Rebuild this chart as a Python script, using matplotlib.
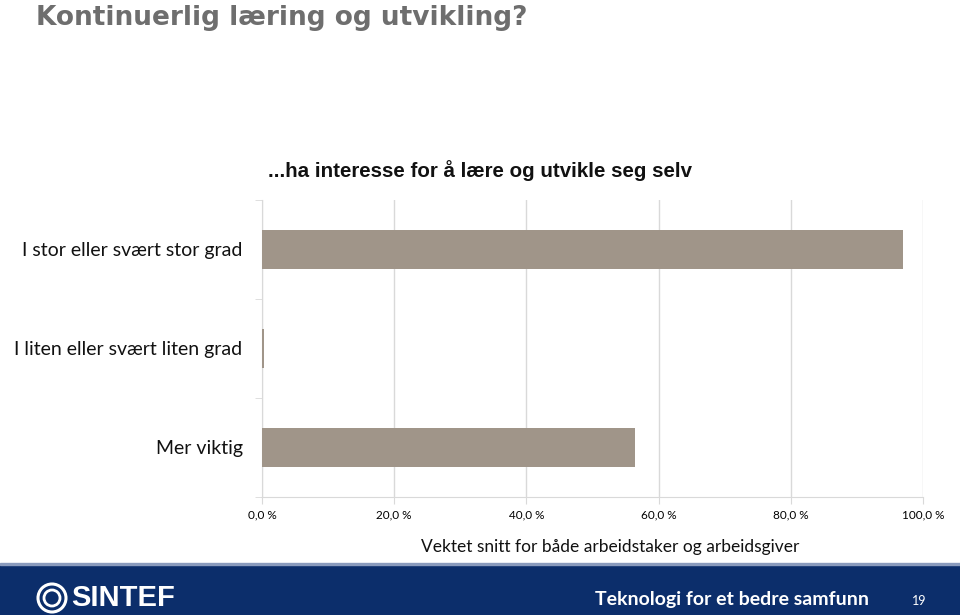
import matplotlib.pyplot as plt
from matplotlib.patches import Rectangle, Circle
from matplotlib.ticker import FixedLocator, FuncFormatter

categories = ["I stor eller svært stor grad", "I liten eller svært liten grad", "Mer viktig"]
values = [97.0, 0.3, 56.4]
x_ticks = [0, 20, 40, 60, 80, 100]

bar_color = "#a09589"
grid_color = "#d9d9d9"
navy = "#0c2e6b"

fig = plt.figure(figsize=(9.6, 6.15), dpi=100)
ax = fig.add_axes([0.2729, 0.1919, 0.6885, 0.4829])

pos = list(range(len(categories)))
ax.barh(pos, values, height=0.4, color=bar_color, zorder=3)
ax.set_ylim(2.5, -0.5)
ax.set_xlim(0, 100)

ax.set_yticks(pos)
ax.set_yticklabels(categories, fontsize=14, color="#111111", family="Lato")
ax.yaxis.set_minor_locator(FixedLocator([-0.5, 0.5, 1.5, 2.5]))
ax.tick_params(axis="y", which="major", length=0, pad=14)
ax.tick_params(axis="y", which="minor", length=5, color=grid_color)

ax.set_xticks(x_ticks)
ax.xaxis.set_major_formatter(FuncFormatter(lambda v, p: f"{v:.1f} %".replace(".", ",")))
ax.tick_params(axis="x", length=5, color=grid_color, labelsize=8.5, pad=4)
for lab in ax.get_xticklabels():
    lab.set_family("Lato")

ax.grid(axis="x", color=grid_color, linewidth=1, zorder=0)
for s in ["top", "right"]:
    ax.spines[s].set_visible(False)
ax.spines["left"].set_color(grid_color)
ax.spines["bottom"].set_color(grid_color)

fig.text(0.5, 0.722, "...ha interesse for å lære og utvikle seg selv", ha="center", va="center",
         fontsize=14.8, fontweight="bold", family="Liberation Sans", color="#111111")
fig.text(0.636, 0.111, "Vektet snitt for både arbeidstaker og arbeidsgiver", ha="center", va="center",
         fontsize=12.5, family="Lato", color="#111111")

fig.text(0.038, 0.970, "Kontinuerlig læring og utvikling?", ha="left", va="center",
         fontsize=19, fontweight="bold", color="#6e6e6e", family="DejaVu Sans Condensed")

# footer band
fig.patches.append(Rectangle((0, 0), 1, 50 / 615, transform=fig.transFigure, color=navy, zorder=0))
fig.patches.append(Rectangle((0, 50 / 615), 1, 2 / 615, transform=fig.transFigure, color="#8a9bbd", zorder=0))
fig.patches.append(Circle((52, 17), 14, transform=None, fill=False, edgecolor="white", linewidth=2.2))
fig.patches.append(Circle((52, 17), 8, transform=None, fill=False, edgecolor="white", linewidth=2))
fig.text(0.074, 0.028, "SINTEF", ha="left", va="center", fontsize=21, fontweight="bold",
         color="white", family="Liberation Sans")
fig.text(0.62, 0.026, "Teknologi for et bedre samfunn", ha="left", va="center", fontsize=14,
         fontweight="bold", color="white", family="Lato")
fig.text(0.958, 0.022, "19", ha="center", va="center", fontsize=9, color="white", family="Lato")

fig.savefig("out.png", dpi=100)
